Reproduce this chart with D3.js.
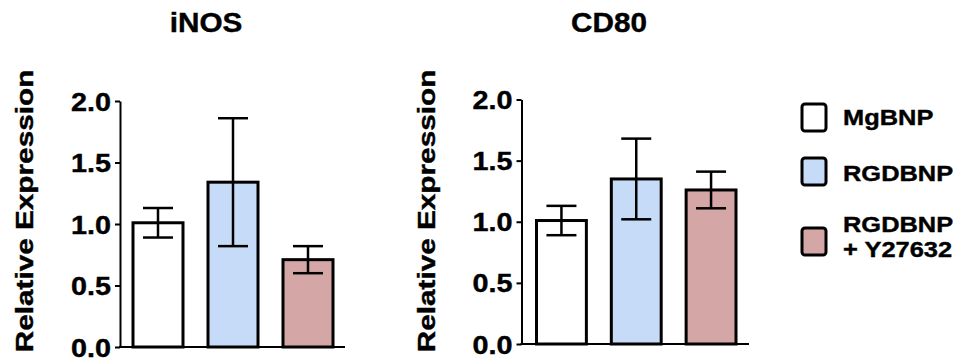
<!DOCTYPE html>
<html>
<head>
<meta charset="utf-8">
<script src="https://cdn.jsdelivr.net/npm/d3@7"></script>
<style>
  html, body { margin: 0; padding: 0; background: #fff; }
  svg { display: block; }
  text { font-family: "Liberation Sans", Arial, Helvetica, sans-serif; font-weight: bold; fill: #000; stroke: #000; stroke-width: 0.4px; }
</style>
</head>
<body>
<svg id="chart" width="959" height="362"></svg>
<script>
// ---- data ----
const categories = ["MgBNP", "RGDBNP", "RGDBNP + Y27632"];
const legendLines = [["MgBNP"], ["RGDBNP"], ["RGDBNP", "+ Y27632"]];
const panelTitles = ["iNOS", "CD80"];
const inosMean = [1.01, 1.34, 0.71];
const inosErr  = [0.12, 0.52, 0.11];
const cd80Mean = [1.01, 1.35, 1.26];
const cd80Err  = [0.12, 0.33, 0.15];
const yTicks = [0, 0.5, 1.0, 1.5, 2.0];
const yLabel = "Relative Expression";

const colors = ["#ffffff", "#c6dbf7", "#d5a6a6"];

const svg = d3.select("#chart");

const panels = [
  { title: panelTitles[0], mean: inosMean, err: inosErr,
    axisX: 120, yTop: 101, yBottom: 347, barStart: 133, barEnd: 333, baseEnd: 345,
    titleX: 206, labelX: 33 },
  { title: panelTitles[1], mean: cd80Mean, err: cd80Err,
    axisX: 521.5, yTop: 99.5, yBottom: 344, barStart: 536.5, barEnd: 736, baseEnd: 749,
    titleX: 609, labelX: 435 }
];

panels.forEach(p => {
  const g = svg.append("g");
  const y = d3.scaleLinear().domain([0, 2]).range([p.yBottom, p.yTop]);
  const x = d3.scaleBand().domain(categories).range([p.barStart, p.barEnd])
    .paddingInner(1/3).paddingOuter(0);

  // bars
  g.selectAll("rect.bar").data(p.mean).enter().append("rect")
    .attr("class", "bar")
    .attr("x", (d, i) => x(categories[i]))
    .attr("width", x.bandwidth())
    .attr("y", d => y(d))
    .attr("height", d => y(0) - y(d))
    .attr("fill", (d, i) => colors[i])
    .attr("stroke", "#000")
    .attr("stroke-width", 3);

  // error bars
  const capHalf = 15;
  p.mean.forEach((m, i) => {
    const cx = x(categories[i]) + x.bandwidth() / 2;
    const lo = y(m - p.err[i]), hi = y(m + p.err[i]);
    g.append("line").attr("x1", cx).attr("x2", cx).attr("y1", lo).attr("y2", hi)
      .attr("stroke", "#000").attr("stroke-width", 2.5);
    [lo, hi].forEach(v => {
      g.append("line").attr("x1", cx - capHalf).attr("x2", cx + capHalf)
        .attr("y1", v).attr("y2", v)
        .attr("stroke", "#000").attr("stroke-width", 2.5);
    });
  });

  // y axis
  const axis = d3.axisLeft(y).tickValues(yTicks).tickFormat(d3.format(".1f"))
    .tickSize(5).tickSizeOuter(0).tickPadding(4);
  const ag = g.append("g").attr("transform", `translate(${p.axisX},0)`).call(axis);
  ag.select(".domain").attr("stroke", "#000").attr("stroke-width", 2);
  ag.selectAll(".tick line").attr("stroke", "#000").attr("stroke-width", 2);
  ag.selectAll(".tick text")
    .attr("font-size", 25)
    .attr("font-family", null)
    .attr("dy", "0.36em")
    .each(function () {
      const t = d3.select(this);
      const xx = +t.attr("x");
      t.attr("x", 0).attr("transform", `translate(${xx},0) scale(1.15,1)`);
    });

  // baseline
  g.append("line").attr("x1", p.axisX - 1).attr("x2", p.baseEnd)
    .attr("y1", y(0)).attr("y2", y(0))
    .attr("stroke", "#000").attr("stroke-width", 2);

  // title
  g.append("text").text(p.title)
    .attr("text-anchor", "middle")
    .attr("font-size", 27)
    .attr("transform", `translate(${p.titleX},32) scale(1.1,1)`);

  // y label
  g.append("text").text(yLabel)
    .attr("text-anchor", "middle")
    .attr("font-size", 24)
    .attr("transform", `translate(${p.labelX},211) rotate(-90) scale(1.24,1)`);
});

// legend
const lg = svg.append("g");
const boxY = [104, 158, 228];
const textBase = [125, 181, 232];
const lineGap = 25.4;
legendLines.forEach((lines, i) => {
  lg.append("rect")
    .attr("x", 802).attr("y", boxY[i]).attr("width", 24).attr("height", 27)
    .attr("rx", 3).attr("ry", 3)
    .attr("fill", colors[i]).attr("stroke", "#000").attr("stroke-width", 3);
  lines.forEach((line, j) => {
    lg.append("text").text(line)
      .attr("font-size", 22.5)
      .attr("transform", `translate(843,${textBase[i] + j * lineGap}) scale(1.13,1)`);
  });
});
</script>
</body>
</html>
